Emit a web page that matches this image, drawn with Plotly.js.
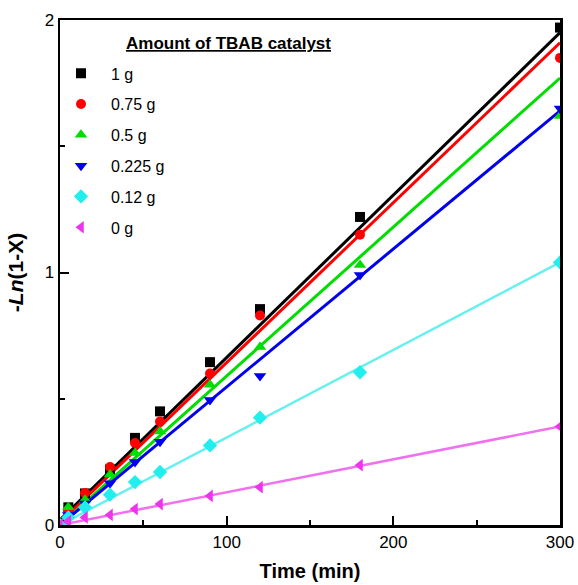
<!DOCTYPE html>
<html>
<head>
<meta charset="utf-8">
<script src="https://cdn.plot.ly/plotly-3.0.1.min.js"></script>
<style>html,body{margin:0;padding:0;background:#fff;}#chart{width:578px;height:585px;}</style>
</head>
<body>
<div id="chart"></div>
<script>
// Data
const time = [0, 5, 15, 30, 45, 60, 90, 120, 180, 300];
const seriesNames = ["1 g", "0.75 g", "0.5 g", "0.225 g", "0.12 g", "0 g"];
const y_1g     = [0, 0.07, 0.125, 0.22, 0.345, 0.45, 0.645, 0.855, 1.22, 1.97];
const y_075g   = [0, 0.06, 0.127, 0.23, 0.325, 0.41, 0.60, 0.83, 1.15, 1.85];
const y_05g    = [0, 0.07, 0.10, 0.20, 0.285, 0.37, 0.555, 0.705, 1.03, 1.62];
const y_0225g  = [0, 0.04, 0.085, 0.165, 0.25, 0.33, 0.495, 0.59, 0.99, 1.65];
const y_012g   = [0, 0.03, 0.07, 0.12, 0.17, 0.21, 0.315, 0.425, 0.605, 1.04];
const y_0g     = [0, 0.015, 0.03, 0.04, 0.063, 0.083, 0.115, 0.15, 0.237, 0.39];
// Linear fit lines: endpoints
const fitX = [0, 300];
const fit_1g    = [0.02, 1.95];
const fit_075g  = [0.01, 1.91];
const fit_05g   = [0.0, 1.77];
const fit_0225g = [0.0, 1.64];
const fit_012g  = [0.0, 1.04];
const fit_0g    = [0.0, 0.39];

const ys = [y_1g, y_075g, y_05g, y_0225g, y_012g, y_0g];
const fits = [fit_1g, fit_075g, fit_05g, fit_0225g, fit_012g, fit_0g];
const markerColors = ["#000000", "#ff0000", "#00dd00", "#0000ee", "#22eeee", "#ee33ee"];
const lineColors = ["#000000", "#ff0000", "#00dd00", "#0000ee", "#66f0f0", "#f070f0"];
const lineWidths = [3, 3, 3, 3, 2.5, 2.5];
const symbols = ["square", "circle", "triangle-up", "triangle-down", "diamond", "triangle-left"];
const sizes = [10, 10, 11, 11, 11, 11];

const traces = [];
for (let i = 0; i < ys.length; i++) {
  traces.push({
    x: fitX, y: fits[i], mode: "lines", type: "scatter",
    line: {color: lineColors[i], width: lineWidths[i]},
    showlegend: false, hoverinfo: "skip"
  });
}
for (let i = 0; i < ys.length; i++) {
  traces.push({
    x: time, y: ys[i], mode: "markers", type: "scatter", name: seriesNames[i],
    legendgroup: "g" + i,
    marker: {color: markerColors[i], symbol: symbols[i], size: sizes[i]}
  });
}

const layout = {
  width: 578, height: 585,
  margin: {l: 60, r: 18, t: 20, b: 60},
  paper_bgcolor: "#fff", plot_bgcolor: "#fff",
  font: {family: "Arial, 'Liberation Sans', sans-serif", color: "#000", size: 16},
  showlegend: true,
  legend: {
    x: -0.018, y: 0.928, xanchor: "left", yanchor: "top",
    traceorder: "grouped", tracegroupgap: 7,
    font: {size: 16}, bgcolor: "rgba(0,0,0,0)", itemwidth: 50
  },
  xaxis: {
    range: [0, 300], tickvals: [0, 100, 200, 300], ticks: "inside", ticklen: 9, tickwidth: 2,
    tickcolor: "#000", showline: true, linewidth: 2.5, linecolor: "#000", mirror: true,
    showgrid: false, zeroline: false, tickfont: {size: 17},
    minor: {tickvals: [50, 150, 250], ticks: "inside", ticklen: 5, tickwidth: 2, tickcolor: "#000", showgrid: false},
    title: {text: "<b>Time (min)</b>", font: {size: 20}, standoff: 13}
  },
  yaxis: {
    range: [0, 2], tickvals: [0, 1, 2], ticks: "inside", ticklen: 9, tickwidth: 2,
    tickcolor: "#000", showline: true, linewidth: 2.5, linecolor: "#000", mirror: true,
    showgrid: false, zeroline: false, tickfont: {size: 17},
    minor: {tickvals: [0.5, 1.5], ticks: "inside", ticklen: 5, tickwidth: 2, tickcolor: "#000", showgrid: false},
    title: {text: "<b>-<i>Ln</i>(1-X)</b>", font: {size: 21}, standoff: 16}
  },
  annotations: [{
    xref: "paper", yref: "paper", x: 0.128, y: 0.954, xanchor: "left", yanchor: "middle",
    text: "<u><b>Amount of TBAB catalyst</b></u>", showarrow: false, font: {size: 17}
  }]
};

Plotly.newPlot("chart", traces, layout, {staticPlot: true});
</script>
</body>
</html>
